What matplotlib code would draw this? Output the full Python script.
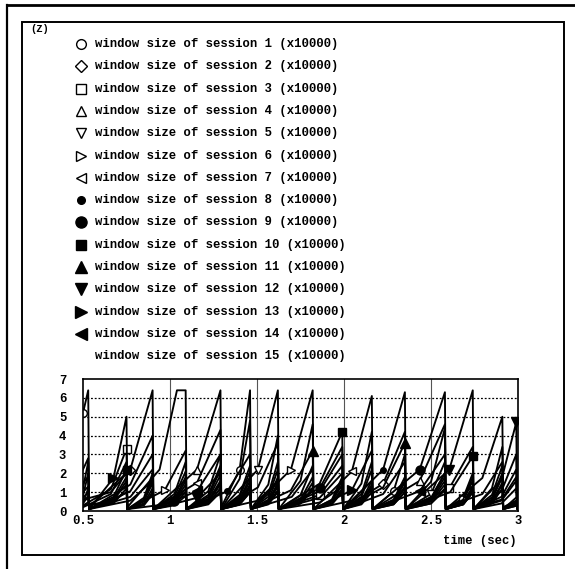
import matplotlib
matplotlib.use("Agg")
import matplotlib.pyplot as plt
from matplotlib.lines import Line2D
from matplotlib.patches import Rectangle

# ---------------- data (time in sec, window size x10000) ----------------
s1_t = [0.50,0.53,0.535,0.675,0.75,0.755,0.85,0.90,0.905,1.025,1.09,1.095,1.22,1.29,1.295,1.40,1.46,1.465,1.70,1.82,1.825,2.045,2.16,2.165,2.285,2.35,2.355,2.50,2.58,2.585,2.685,2.74,2.745,2.905,2.99,2.995,3.0]
s1_w = [5.2,6.4,0.2,0.4,1.2,0.1,0.6,1.8,0.1,0.35,1.0,0.1,0.85,2.4,0.2,2.2,6.4,0.1,0.75,2.2,0.1,0.55,1.6,0.1,1.05,3.0,0.1,0.55,1.6,0.1,0.45,1.3,0.1,0.75,2.2,0.2,0.2]

s2_t = [0.50,0.53,0.535,0.772,0.90,0.905,1.025,1.09,1.095,1.22,1.29,1.295,1.505,1.62,1.625,1.75,1.82,1.825,1.93,1.99,1.995,2.225,2.35,2.355,2.50,2.58,2.585,2.685,2.74,2.745,2.85,2.91,2.915,3.0]
s2_w = [2.2,2.8,0.2,2.2,6.4,0.2,0.5,1.4,0.1,0.65,1.9,0.1,1.25,3.6,0.1,0.4,1.2,0.1,0.6,1.8,0.1,1.45,4.2,0.2,0.7,2.0,0.1,0.4,1.1,0.1,0.7,2.0,0.2,0.6]

s3_t = [0.50,0.66,0.75,0.755,0.94,1.04,1.09,1.095,1.22,1.29,1.295,1.40,1.46,1.465,1.565,1.62,1.625,1.86,1.99,1.995,2.10,2.16,2.165,2.285,2.35,2.355,2.605,2.74,2.745,2.905,2.99,2.995,3.0]
s3_w = [0.3,1.15,3.3,0.2,2.2,6.4,6.4,0.2,0.4,1.2,0.1,0.6,1.8,0.1,0.45,1.3,0.1,0.85,2.4,0.1,0.4,1.2,0.1,0.6,1.8,0.1,1.2,3.4,0.2,0.6,1.8,0.1,0.1]

s4_t = [0.50,0.53,0.535,0.772,0.90,0.905,1.155,1.29,1.295,1.40,1.46,1.465,1.565,1.62,1.625,1.86,1.99,1.995,2.10,2.16,2.165,2.435,2.58,2.585,2.795,2.91,2.915,3.0]
s4_w = [1.0,1.3,0.1,1.05,3.0,0.1,2.2,6.4,0.1,0.4,1.2,0.1,0.6,1.8,0.1,1.05,3.0,0.1,0.5,1.4,0.1,1.6,4.6,0.2,0.9,2.6,0.1,0.4]

s5_t = [0.50,0.66,0.75,0.755,0.85,0.90,0.905,1.025,1.09,1.095,1.22,1.29,1.295,1.505,1.62,1.625,1.75,1.82,1.825,1.93,1.99,1.995,2.10,2.16,2.165,2.285,2.35,2.355,2.50,2.58,2.585,2.685,2.74,2.745,2.85,2.91,2.915,3.0]
s5_w = [0.6,1.0,2.0,0.1,0.4,1.2,0.1,0.75,2.1,0.1,0.5,1.4,0.1,2.2,6.4,0.1,0.4,1.1,0.1,0.55,1.6,0.1,0.75,2.2,0.1,0.45,1.3,0.1,0.9,2.6,0.1,0.55,1.6,0.1,0.5,1.5,0.1,0.6]

s6_t = [0.50,0.53,0.535,0.675,0.75,0.755,0.97,1.09,1.095,1.22,1.29,1.295,1.40,1.46,1.465,1.695,1.82,1.825,1.93,1.99,1.995,2.225,2.35,2.355,2.50,2.58,2.585,2.685,2.74,2.745,2.85,2.91,2.915,3.0]
s6_w = [1.5,1.8,0.1,0.55,1.6,0.1,1.1,3.2,0.1,0.35,1.0,0.1,0.85,2.4,0.1,2.2,6.4,0.1,0.4,1.2,0.1,0.9,2.6,0.1,0.4,1.2,0.1,0.7,2.0,0.1,0.5,1.4,0.1,0.5]

s7_t = [0.50,0.66,0.75,0.755,0.85,0.90,0.905,1.155,1.29,1.295,1.40,1.46,1.465,1.565,1.62,1.625,1.75,1.82,1.825,2.045,2.16,2.165,2.285,2.35,2.355,2.50,2.58,2.585,2.685,2.74,2.745,2.905,2.99,2.995,3.0]
s7_w = [0.2,0.9,2.6,0.1,0.5,1.5,0.1,1.5,4.3,0.1,0.55,1.6,0.1,0.75,2.2,0.1,0.5,1.5,0.1,2.1,6.1,0.1,0.35,1.0,0.1,0.7,2.0,0.1,0.4,1.2,0.1,1.05,3.0,0.2,0.2]

s8_t = [0.50,0.53,0.535,0.772,0.90,0.905,1.025,1.09,1.095,1.33,1.46,1.465,1.565,1.62,1.625,1.75,1.82,1.825,1.93,1.99,1.995,2.225,2.35,2.355,2.50,2.58,2.585,2.685,2.74,2.745,2.85,2.91,2.915,3.0]
s8_w = [0.8,2.0,0.1,0.75,2.2,0.1,0.4,1.2,0.1,1.05,3.0,0.1,0.4,1.1,0.1,0.6,1.8,0.1,0.4,1.1,0.1,2.2,6.3,0.1,0.4,1.1,0.1,0.6,1.8,0.1,0.4,1.2,0.1,0.4]

s9_t = [0.50,0.66,0.75,0.755,0.85,0.90,0.905,1.025,1.09,1.095,1.22,1.29,1.295,1.40,1.46,1.465,1.565,1.62,1.625,1.86,1.99,1.995,2.10,2.16,2.165,2.435,2.58,2.585,2.685,2.74,2.745,2.905,2.99,2.995,3.0]
s9_w = [0.3,0.5,1.4,0.1,0.7,2.0,0.1,0.55,1.6,0.1,0.4,1.2,0.1,0.75,2.1,0.1,0.5,1.4,0.1,1.2,3.4,0.1,0.45,1.3,0.1,2.2,6.3,0.1,0.35,1.0,0.1,0.55,1.6,0.1,0.1]

s10_t = [0.50,0.53,0.535,0.675,0.75,0.755,0.97,1.09,1.095,1.22,1.29,1.295,1.40,1.46,1.465,1.565,1.62,1.625,1.86,1.99,1.995,2.10,2.16,2.165,2.285,2.35,2.355,2.61,2.74,2.745,2.905,2.99,2.995,3.0]
s10_w = [1.2,2.6,0.1,0.75,2.2,0.1,0.35,1.0,0.1,0.75,2.2,0.1,0.45,1.3,0.1,0.5,1.5,0.1,1.45,4.2,0.1,0.35,1.0,0.1,0.5,1.5,0.1,1.0,2.9,0.1,0.4,1.2,0.1,0.1]

s11_t = [0.50,0.53,0.535,0.772,0.90,0.905,1.025,1.09,1.095,1.22,1.29,1.295,1.40,1.46,1.465,1.695,1.82,1.825,1.93,1.99,1.995,2.225,2.35,2.355,2.50,2.58,2.585,2.795,2.91,2.915,3.0]
s11_w = [0.4,0.8,0.1,0.55,1.6,0.1,0.9,2.6,0.1,0.5,1.5,0.1,0.35,1.0,0.1,1.1,3.2,0.1,0.35,1.0,0.1,1.25,3.6,0.1,0.5,1.4,0.1,1.75,5.0,0.1,0.3]

s12_t = [0.50,0.66,0.75,0.755,0.85,0.90,0.905,1.155,1.29,1.295,1.40,1.46,1.465,1.565,1.62,1.625,1.86,1.99,1.995,2.10,2.16,2.165,2.285,2.35,2.355,2.605,2.74,2.745,2.905,2.99,2.995,3.0]
s12_w = [0.3,0.45,1.0,0.1,0.55,1.6,0.1,0.7,2.0,0.1,0.35,1.0,0.1,0.9,2.6,0.1,0.7,2.0,0.1,0.55,1.6,0.1,0.4,1.2,0.1,2.2,6.4,0.1,1.65,4.7,0.2,0.2]

s13_t = [0.50,0.53,0.535,0.675,0.75,0.755,0.85,0.90,0.905,1.025,1.09,1.095,1.22,1.29,1.295,1.505,1.62,1.625,1.75,1.82,1.825,2.045,2.16,2.165,2.285,2.35,2.355,2.50,2.58,2.585,2.685,2.74,2.745,2.85,2.91,2.915,3.0]
s13_w = [0.5,0.7,0.1,1.75,5.0,0.1,0.35,1.0,0.1,0.6,1.8,0.1,1.05,3.0,0.1,0.55,1.6,0.1,0.85,2.4,0.1,1.1,3.2,0.1,0.55,1.6,0.1,0.6,1.8,0.1,0.4,1.2,0.1,0.6,1.8,0.1,0.4]

s14_t = [0.50,0.53,0.535,0.675,0.75,0.755,0.85,0.90,0.905,1.155,1.29,1.295,1.40,1.46,1.465,1.565,1.62,1.625,1.86,1.99,1.995,2.10,2.16,2.165,2.435,2.58,2.585,2.685,2.74,2.745,2.85,2.91,2.915,3.0]
s14_w = [0.7,1.0,0.1,0.65,1.8,0.1,0.3,0.9,0.1,1.05,3.0,0.1,0.5,1.4,0.1,1.4,4.0,0.1,0.45,1.3,0.1,0.9,2.6,0.1,1.05,3.0,0.1,0.35,1.0,0.1,0.85,2.4,0.1,0.3]

s15_t = [0.50,0.53,0.535,0.772,0.90,0.905,1.025,1.09,1.095,1.22,1.29,1.295,1.40,1.46,1.465,1.565,1.62,1.625,1.75,1.82,1.825,1.93,1.99,1.995,2.10,2.16,2.165,2.285,2.35,2.355,2.50,2.58,2.585,2.685,2.74,2.745,2.85,2.91,2.915,3.0]
s15_w = [0.4,1.2,0.1,1.4,4.0,0.1,0.3,0.8,0.1,0.55,1.6,0.1,1.7,4.8,0.1,0.35,1.0,0.1,1.6,4.6,0.1,0.5,1.4,0.1,1.45,4.2,0.1,0.35,1.0,0.1,1.55,4.4,0.1,0.35,1.0,0.1,1.2,3.4,0.1,0.8]

series_t = [s1_t, s2_t, s3_t, s4_t, s5_t, s6_t, s7_t, s8_t, s9_t, s10_t, s11_t, s12_t, s13_t, s14_t, s15_t]
series_w = [s1_w, s2_w, s3_w, s4_w, s5_w, s6_w, s7_w, s8_w, s9_w, s10_w, s11_w, s12_w, s13_w, s14_w, s15_w]

labels = [f"window size of session {i} (x10000)" for i in range(1, 16)]
x_ticks = [0.5, 1, 1.5, 2, 2.5, 3]
x_tick_labels = ["0.5", "1", "1.5", "2", "2.5", "3"]
y_ticks = [0, 1, 2, 3, 4, 5, 6, 7]

# ---------------- styles ----------------
markers = ['o', 'D', 's', '^', 'v', '>', '<', 'o', 'o', 's', '^', 'v', '>', '<', None]
filled = [False]*7 + [True]*7 + [False]
msizes = [5.5, 5, 5.5, 6, 6, 6, 6, 4, 6.5, 6, 6.5, 6.5, 6.5, 6.5, 0]
# which vertices of each series carry a marker symbol
mark_idx = [[0, 15, 24], [3, 21], [2, 17, 26], [6, 21], [13, 28], [6, 15, 27], [7, 19],
            [9, 21], [7, 19, 25], [4, 19, 28], [16, 22], [7, 25, 29], [3, 21], [9, 24], []]

W, H = 575, 569
FONT = ['Liberation Mono', 'DejaVu Sans Mono']
fig = plt.figure(figsize=(W/100, H/100), dpi=100)
fig.patch.set_facecolor('white')

def fx(px): return px / W
def fy(py): return 1 - py / H

# frames
fig.add_artist(Line2D([fx(7), fx(575)], [fy(5), fy(5)], color='black', lw=2.0, transform=fig.transFigure))
fig.add_artist(Line2D([fx(7), fx(7)], [fy(5), fy(569)], color='black', lw=1.6, transform=fig.transFigure))
fig.add_artist(Rectangle((fx(22), fy(555)), fx(564) - fx(22), fy(22) - fy(555),
                         fill=False, edgecolor='black', lw=1.4, transform=fig.transFigure))

fig.text(fx(30), fy(29), "(Z)", fontsize=7.5, family=FONT, weight='bold', va='center', ha='left')

# legend
for i, lab in enumerate(labels):
    py = 44 + i * 22.3
    if markers[i] is not None:
        fc = 'black' if filled[i] else 'white'
        ms = msizes[i] + 1.5
        fig.add_artist(Line2D([fx(81)], [fy(py)], marker=markers[i], markersize=ms,
                              markerfacecolor=fc, markeredgecolor='black', markeredgewidth=1.0,
                              linestyle='none', transform=fig.transFigure))
    fig.text(fx(95), fy(py), lab, fontsize=8.8, family=FONT, weight='bold', va='center', ha='left')

# axes
ax = fig.add_axes([fx(83), fy(511), fx(518) - fx(83), fy(379) - fy(511)])
for i in range(15):
    t, w = series_t[i], series_w[i]
    assert len(t) == len(w)
    kw = dict(color='black', lw=1.35)
    if markers[i] is not None:
        kw.update(marker=markers[i], markersize=msizes[i],
                  markerfacecolor='black' if filled[i] else 'white',
                  markeredgecolor='black', markeredgewidth=1.0,
                  markevery=mark_idx[i])
    ax.plot(t, w, **kw)

ax.set_xlim(0.5, 3.0)
ax.set_ylim(0, 7)
ax.set_xticks(x_ticks)
ax.set_xticklabels(x_tick_labels)
ax.set_yticks(y_ticks)
for yv in range(1, 7):
    ax.axhline(yv, color='black', lw=0.9, ls=(0, (1.5, 1.5)), zorder=0)
for xv in [1, 1.5, 2, 2.5]:
    ax.axvline(xv, color='#555555', lw=0.8, zorder=0)
ax.tick_params(length=0, labelsize=8.8)
for lab in ax.get_xticklabels() + ax.get_yticklabels():
    lab.set_family(FONT)
    lab.set_fontweight('bold')
ax.tick_params(axis='y', pad=12)
ax.tick_params(axis='x', pad=3)
for sp in ax.spines.values():
    sp.set_linewidth(1.2)

fig.text(fx(517), fy(541), "time (sec)", fontsize=8.8, family=FONT, weight='bold', ha='right', va='center')

fig.savefig("out.png", dpi=100)
